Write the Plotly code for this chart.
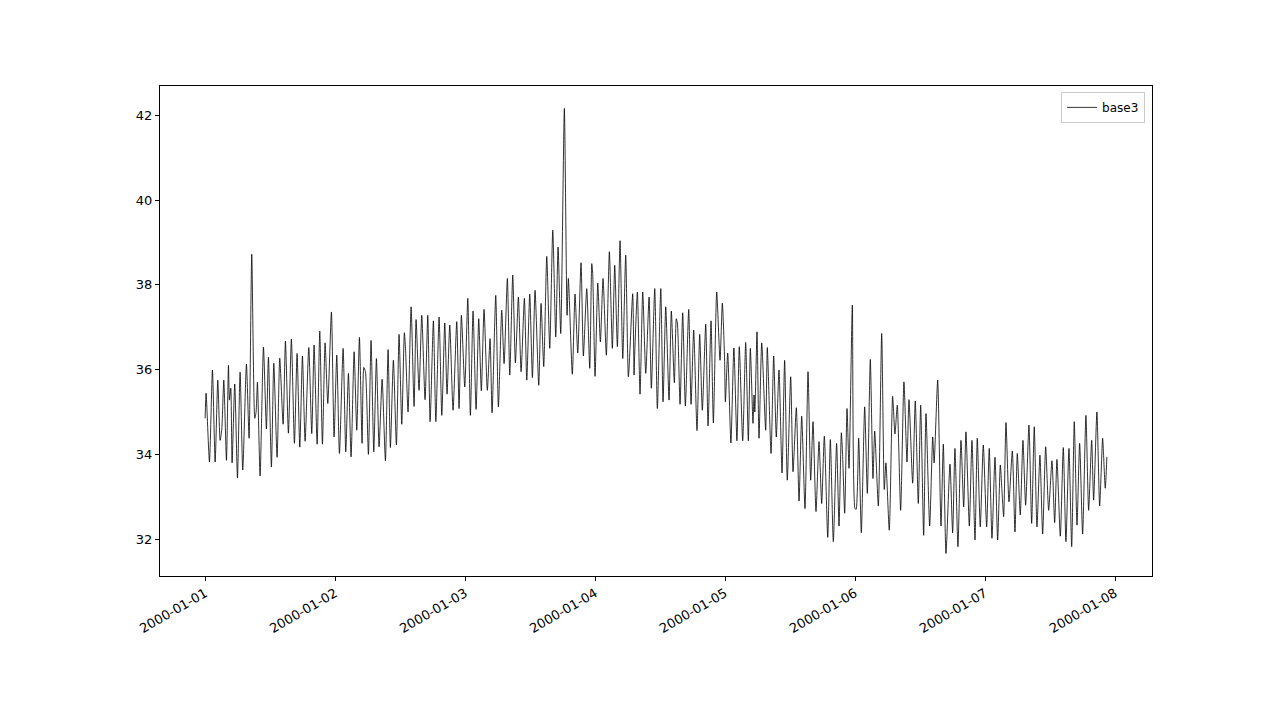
import pandas as pd
import plotly.graph_objects as go

series_name = "base3"
start = "2000-01-01"

# hours since start and the values at the turning points
hours = [
    0.0, 0.18, 0.80, 1.35, 1.85, 2.34, 2.77, 3.08, 3.45, 3.94, 4.31, 4.49, 4.74, 4.98, 5.47, 5.97,
    6.46, 6.95, 7.63, 8.12, 8.61, 9.17, 9.41, 9.66, 10.15, 10.77, 11.32, 11.69, 12.24, 12.68, 13.29,
    13.78, 14.40, 14.83, 15.38, 15.93, 16.49, 16.98, 17.48, 17.97, 18.46, 19.14, 19.69, 20.12, 20.68,
    21.17, 21.66, 22.15, 22.65, 23.32, 23.81, 24.31, 24.8, 25.48, 25.97, 26.46, 26.95, 27.51, 28.0,
    28.49, 28.98, 29.3, 29.6, 30.15, 30.64, 31.14, 31.63, 32.12, 32.68, 33.29, 33.78, 34.21, 34.76,
    35.32, 35.81, 36.31, 36.79, 37.0, 37.47, 38.03, 38.58, 38.95, 39.5, 40.0, 40.61, 41.11, 41.54,
    42.15, 42.6, 43.2, 43.7, 44.25, 44.67, 45.17, 45.78, 46.46, 46.89, 47.32, 47.94, 48.5, 48.98,
    49.47, 50.03, 50.52, 51.0, 51.5, 52.11, 52.61, 52.98, 53.66, 54.15, 54.77, 55.2, 55.81, 56.25,
    56.8, 57.29, 57.84, 58.34, 58.95, 59.39, 59.94, 60.43, 60.92, 61.6, 62.03, 62.52, 63.08, 63.63,
    64.19, 64.74, 65.17, 65.66, 66.33, 66.83, 67.07, 67.8, 68.3, 68.8, 69.41, 69.84, 70.46, 71.02,
    71.39, 71.55, 72.0, 72.5, 72.98, 73.47, 74.08, 74.64, 75.19, 75.63, 76.12, 76.61, 77.11, 77.66,
    78.15, 78.95, 79.2, 79.3, 79.81, 80.3, 80.8, 81.36, 81.97, 82.39, 83.02, 83.5, 84.13, 84.55,
    85.05, 85.66, 86.08, 86.64, 87.0, 87.2, 87.69, 88.18, 88.67, 89.29, 89.72, 90.21, 90.82, 91.32,
    91.8, 92.43, 92.86, 93.41, 93.84, 94.46, 95.07, 95.5, 95.9, 96.06, 96.49, 97.08, 97.63, 98.19,
    98.63, 99.26, 99.81, 100.3, 100.67, 101.16, 101.35, 101.5, 101.9, 102.27, 102.77, 103.5, 103.8,
    104.49, 104.98, 105.46, 105.96, 106.52, 107.0, 107.49, 108.12, 108.55, 109.16, 109.66, 110.15,
    110.76, 111.32, 111.81, 112.24, 112.79, 113.35, 113.84, 114.33, 114.96, 115.44, 115.99, 116.6,
    117.04, 117.47, 117.7, 118.09, 118.52, 118.89, 119.5, 119.99, 120.2, 120.67, 121.16, 121.78,
    122.27, 122.82, 123.31, 123.63, 124.3, 124.92, 125.4, 125.7, 126.32, 126.94, 127.37, 127.8,
    128.42, 129.03, 129.59, 129.96, 130.64, 131.12, 131.68, 132.12, 132.67, 133.1, 133.78, 134.34,
    134.6, 135.26, 135.87, 136.3, 136.79, 137.53, 138.02, 138.45, 139.0, 139.56, 140.06, 140.48,
    141.1, 141.59, 142.15, 142.57, 143.12, 143.68, 144.3, 144.78, 145.28, 145.84, 146.33, 146.82,
    147.1, 147.44, 147.87, 148.42, 149.04, 149.53, 149.96, 150.51, 151.0, 151.5, 152.11, 152.61,
    153.09, 153.59, 154.14, 154.64, 155.2, 155.75, 156.36, 156.86, 157.28, 157.9, 158.45, 158.94,
    159.5, 160.0, 160.48, 160.98, 161.47, 162.02, 162.63, 163.13, 163.69, 164.05, 164.66, 165.16,
    165.71, 165.85, 166.2, 166.5,
]

values = [
    34.85, 35.44, 33.82, 35.99, 33.82, 35.75, 34.33, 34.6, 35.75, 33.86, 36.1, 35.28, 35.56, 33.8, 35.66, 33.44,
    35.94, 33.63, 36.13, 34.38, 38.72, 34.85, 35.0, 35.7, 33.49, 36.53, 34.6, 36.29, 33.7, 36.15, 33.93,
    36.27, 34.71, 36.67, 34.5, 36.72, 34.26, 36.38, 34.17, 36.32, 34.31, 36.52, 34.49, 36.58, 34.24,
    36.91, 34.24, 36.63, 35.2, 37.36, 34.41, 36.34, 34.02, 36.50, 34.06, 35.91, 33.94, 36.42, 34.57,
    36.76, 34.26, 36.05, 35.95, 34.0, 36.69, 34.06, 36.26, 34.18, 35.77, 33.85, 36.47, 34.16, 36.22,
    34.22, 36.83, 34.71, 36.87, 36.5, 35.0, 37.48, 35.13, 37.18, 35.51, 37.28, 35.29, 37.28, 34.77,
    37.15, 34.77, 37.24, 34.92, 37.10, 35.42, 37.05, 35.04, 37.13, 35.08, 37.28, 35.59, 37.68, 34.92,
    37.38, 35.06, 37.2, 35.5, 37.42, 35.51, 36.73, 34.98, 37.75, 35.12, 37.4, 36.14, 38.15, 35.87,
    38.23, 36.16, 37.71, 35.95, 37.68, 35.75, 37.78, 35.81, 37.87, 35.63, 37.56, 36.07, 38.67, 36.5,
    39.29, 36.77, 38.89, 36.85, 42.16, 37.28, 38.15, 35.89, 37.78, 36.39, 38.52, 36.32, 37.91, 36.03,
    38.5, 38.3, 35.84, 38.04, 36.65, 38.15, 36.34, 38.78, 36.5, 38.46, 36.54, 39.04, 36.26, 38.7,
    35.83, 37.79, 35.87, 36.3, 37.83, 35.42, 37.83, 35.91, 37.71, 35.56, 37.91, 35.08, 37.91, 35.24,
    37.48, 35.28, 37.38, 35.69, 37.2, 37.1, 35.18, 37.34, 35.14, 37.42, 35.18, 36.93, 34.56, 36.83,
    35.04, 37.07, 34.67, 37.15, 34.74, 37.83, 36.22, 37.57, 36.3, 35.24, 36.39, 34.27, 36.51, 34.32,
    36.54, 34.32, 36.64, 34.32, 36.5, 34.73, 35.4, 35.0, 36.89, 34.38, 36.63, 34.57, 36.52,
    34.02, 36.32, 34.41, 35.99, 33.56, 36.22, 33.39, 35.83, 33.59, 35.1, 32.9, 34.9,
    32.72, 35.95, 33.39, 34.77, 32.65, 34.3, 32.84, 34.43, 32.04, 34.35, 31.94, 34.26,
    32.31, 34.51, 34.0, 32.61, 35.08, 33.67, 37.52, 32.72, 32.7, 34.38, 32.15, 35.12,
    33.08, 36.24, 33.43, 34.55, 32.78, 36.85, 33.17, 33.8, 32.21, 35.37, 34.48, 35.16,
    32.68, 35.71, 33.82, 35.29, 33.32, 35.26, 32.84, 35.16, 32.09, 34.96, 32.31, 34.41,
    33.8, 35.75, 32.31, 34.24, 31.66, 33.77, 32.15, 34.14, 31.82, 34.33, 32.76, 34.53,
    32.31, 34.33, 31.98, 34.38, 32.29, 34.22, 32.29, 34.14, 32.02, 33.93, 31.98, 33.75,
    33.2, 32.53, 34.75, 32.88, 34.08, 32.17, 34.02, 32.57, 34.33, 32.8, 34.69, 32.37,
    34.65, 32.29, 33.98, 32.12, 34.18, 32.68, 33.85, 32.39, 33.88, 32.07, 34.16, 31.94,
    34.14, 31.82, 34.77, 32.33, 34.26, 32.12, 34.92, 32.68, 34.33, 32.92, 35.0, 32.78,
    34.38, 34.1, 33.2, 33.94,
]

times = pd.Timestamp(start) + pd.to_timedelta(hours, unit="h")

fig = go.Figure()
fig.add_trace(go.Scatter(
    x=times, y=values, mode="lines", name=series_name,
    line=dict(color="rgba(0,0,0,0.8)", width=1, shape="spline", smoothing=0.6),
))

font = dict(family="DejaVu Sans", size=13, color="black")
x0 = pd.Timestamp(start) - pd.Timedelta(hours=8.33)
x1 = pd.Timestamp(start) + pd.Timedelta(hours=166.5 + 8.33)

fig.update_layout(
    width=1280, height=720,
    margin=dict(l=152, r=136, t=78, b=152),
    paper_bgcolor="white", plot_bgcolor="white",
    font=font,
    showlegend=True,
    legend=dict(x=0.993, y=0.988, xanchor="right", yanchor="top",
                bordercolor="#cccccc", borderwidth=1, bgcolor="white",
                font=dict(family="DejaVu Sans", size=12),
                tracegroupgap=0, itemwidth=30),
    xaxis=dict(
        range=[x0, x1], type="date", tick0=start, dtick=86400000,
        tickformat="%Y-%m-%d", tickangle=-30,
        showgrid=False, zeroline=False, showline=True, linecolor="black", linewidth=1,
        mirror=True, ticks="outside", ticklen=4, tickcolor="black",
    ),
    yaxis=dict(
        range=[31.13, 42.69], tickvals=[32, 34, 36, 38, 40, 42],
        showgrid=False, zeroline=False, showline=True, linecolor="black", linewidth=1,
        mirror=True, ticks="outside", ticklen=4, tickcolor="black",
    ),
)

fig.write_html("out.html")
